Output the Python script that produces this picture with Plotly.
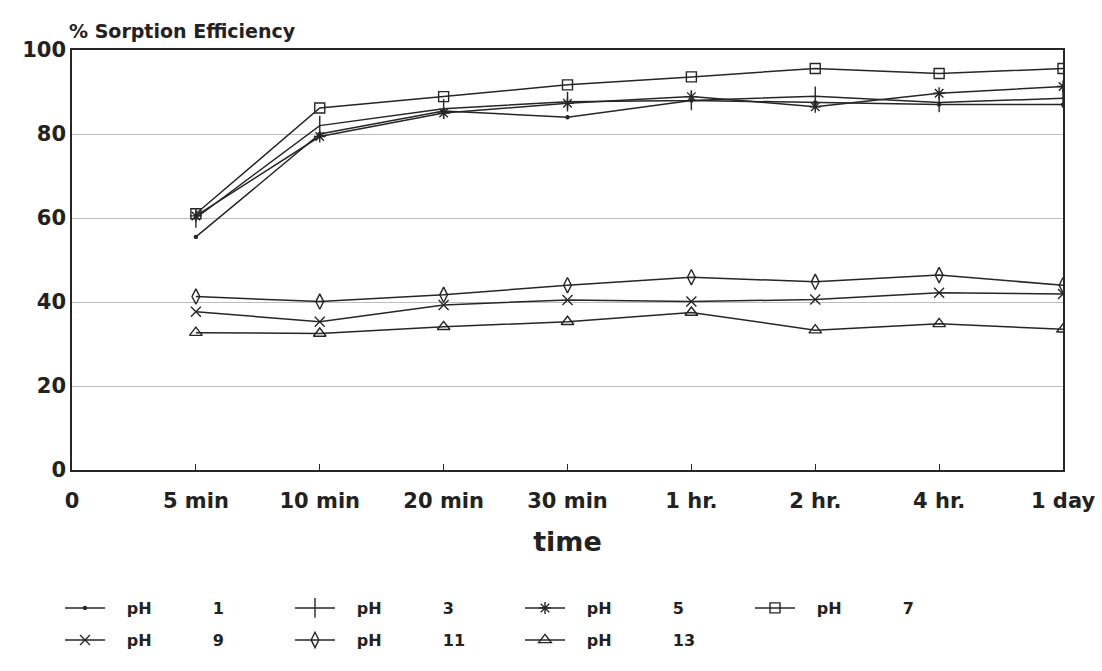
import plotly.graph_objects as go

tick_labels = ["0", "5 min", "10 min", "20 min", "30 min", "1 hr.", "2 hr.", "4 hr.", "1 day"]
time_index = [1, 2, 3, 4, 5, 6, 7, 8]

ph1 = [55.5, 80.0, 85.5, 84.0, 88.0, 87.5, 87.0, 87.0]
ph3 = [60.0, 82.0, 86.0, 87.7, 88.0, 89.0, 87.5, 88.5]
ph5 = [60.5, 79.4, 85.0, 87.3, 88.9, 86.5, 89.7, 91.3]
ph7 = [61.0, 86.2, 88.9, 91.7, 93.6, 95.6, 94.4, 95.6]
ph9 = [37.7, 35.3, 39.3, 40.5, 40.1, 40.6, 42.2, 41.9]
ph11 = [41.3, 40.1, 41.7, 44.0, 45.9, 44.8, 46.4, 44.0]
ph13 = [32.7, 32.5, 34.1, 35.3, 37.5, 33.3, 34.8, 33.5]

ph_labels = ["1", "3", "5", "7", "9", "11", "13"]

NB = "\u00a0"
series = [
    (ph1, "circle", 3, "legend"),
    (ph3, "line-ns-open", 14, "legend"),
    (ph5, "asterisk-open", 10, "legend"),
    (ph7, "square-open", 10, "legend"),
    (ph9, "x-thin-open", 10, "legend2"),
    (ph11, "diamond-tall-open", 11, "legend2"),
    (ph13, "triangle-up-open", 11, "legend2"),
]

ink = "#262626"
FAM = "DejaVu Sans, Liberation Sans, Arial, sans-serif"
fig = go.Figure()
for (vals, sym, size, lg), lab in zip(series, ph_labels):
    name = NB * 3 + "pH" + NB * 11 + lab
    fig.add_trace(go.Scatter(
        x=time_index, y=vals, name=name, mode="lines+markers", legend=lg,
        line=dict(color=ink, width=1.5),
        marker=dict(symbol=sym, size=size, color=ink, line=dict(color=ink, width=1.4)),
    ))

tick_font = dict(family=FAM, color="#222", size=21, weight="bold")
leg_font = dict(family=FAM, size=16, color="#222", weight="bold")

common_leg = dict(
    orientation="h", xanchor="left", yanchor="middle", yref="container", xref="container",
    entrywidth=175, entrywidthmode="pixels", font=leg_font, itemwidth=40,
    bgcolor="rgba(0,0,0,0)",
)

fig.update_layout(
    width=1102, height=671,
    margin=dict(l=72, r=39, t=50, b=201),
    plot_bgcolor="white", paper_bgcolor="white",
    showlegend=True,
    legend=dict(x=60 / 1102, y=(671 - 608) / 671, **common_leg),
    legend2=dict(x=60 / 1102, y=(671 - 640) / 671, **common_leg),
    xaxis=dict(
        range=[0, 8], tickmode="array", tickvals=list(range(len(tick_labels))), ticktext=tick_labels,
        showgrid=False, showline=True, linecolor=ink, linewidth=1.5, mirror=True,
        ticks="inside", ticklen=6, tickcolor=ink, tickwidth=1.2, automargin=False,
        tickfont=tick_font, zeroline=False, ticklabelstandoff=11,
        title=dict(text="time", font=dict(family=FAM, size=27, color="#222", weight="bold"), standoff=20),
    ),
    yaxis=dict(
        range=[0, 100], tickvals=[0, 20, 40, 60, 80, 100], automargin=False,
        showgrid=True, gridcolor="#bdbdbd", gridwidth=1,
        showline=True, linecolor=ink, linewidth=1.5, mirror=True,
        ticks="", tickfont=tick_font, zeroline=False,
    ),
    annotations=[dict(
        text="% Sorption Efficiency", xref="paper", yref="paper", x=-0.005, y=1.015,
        xanchor="left", yanchor="bottom", showarrow=False,
        font=dict(family=FAM, size=19, color="#222", weight="bold"),
    )],
)

fig.write_html("out.html")
